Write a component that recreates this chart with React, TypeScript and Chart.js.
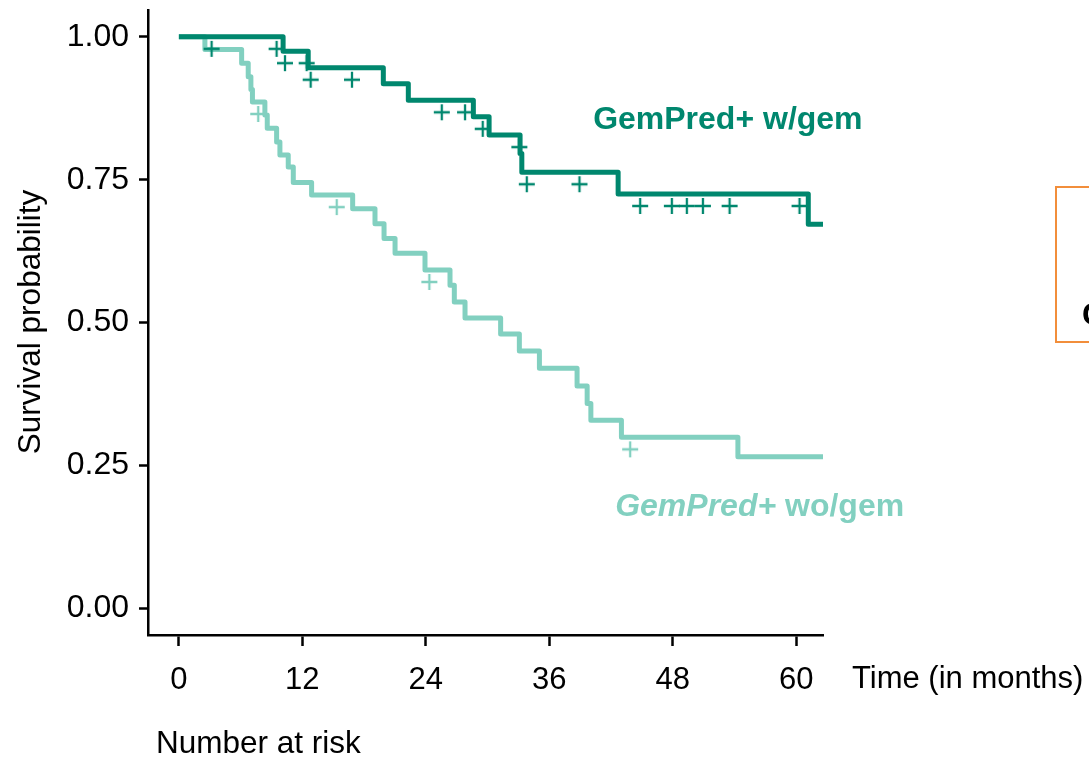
import React, { useEffect, useRef } from "react";
import { Chart, registerables } from "chart.js";
Chart.register(...registerables);

// ---------- data ----------
const X_TICKS = [0, 12, 24, 36, 48, 60];
const X_LABELS = ["0", "12", "24", "36", "48", "60"];
const Y_TICKS = [0, 0.25, 0.5, 0.75, 1.0];
const Y_LABELS = ["0.00", "0.25", "0.50", "0.75", "1.00"];

// GemPred+ w/gem : step times (months) and survival after each step
const wTimes = [0, 10.13, 12.57, 19.87, 22.3, 28.62, 30.15, 33.16, 33.33, 42.69, 61.17];
const wSurv = [1.0, 0.975, 0.946, 0.918, 0.889, 0.86, 0.828, 0.796, 0.763, 0.725, 0.672];
const wCensor = [3.18, 9.5, 10.31, 12.42, 12.81, 16.82, 25.55, 27.81, 29.53, 33.09, 33.81, 38.93, 44.83, 47.91, 49.37, 50.93, 53.52, 60.32];

// GemPred+ wo/gem
const woTimes = [0, 2.53, 6.1, 6.74, 7.0, 7.15, 8.36, 8.59, 9.5, 9.82, 10.63, 11.12, 12.9, 16.89, 19.06, 19.94, 21.01, 23.92, 26.35, 26.77, 27.81, 31.27, 33.09, 35.04, 38.7, 39.68, 40.04, 43.01, 54.33];
const woSurv = [1.0, 0.978, 0.954, 0.93, 0.908, 0.886, 0.863, 0.84, 0.816, 0.793, 0.772, 0.745, 0.723, 0.699, 0.673, 0.647, 0.621, 0.592, 0.565, 0.536, 0.508, 0.48, 0.45, 0.42, 0.389, 0.358, 0.329, 0.299, 0.265];
const woCensor = [7.71, 15.34, 24.34, 43.86];

const X_MIN = -3;
const X_MAX = 62.6;
const Y_MIN = -0.047;
const Y_MAX = 1.047;

const LABEL_W = { text: "GemPred+ w/gem", t: 40.26, v: 0.838 };
const LABEL_WO = { italic: "GemPred+", rest: " wo/gem", t: 42.4, v: 0.161 };

const DARK = "#00876e";
const LIGHT = "#82d0c0";
const FONT = "'Liberation Sans', Arial, Helvetica, sans-serif";

function survAt(times: number[], surv: number[], t: number) {
  let v = surv[0];
  for (let i = 0; i < times.length; i++) {
    if (times[i] <= t) v = surv[i];
  }
  return v;
}

function stepData(times: number[], surv: number[]) {
  const pts = times.map((t, i) => ({ x: t, y: surv[i] }));
  pts.push({ x: X_MAX, y: surv[surv.length - 1] });
  return pts;
}

function makeCross(color: string, offset: number, size: number, lw: number) {
  const c = document.createElement("canvas");
  c.width = size + 4;
  c.height = 2 * (offset + size / 2 + 3);
  const g = c.getContext("2d")!;
  g.strokeStyle = color;
  g.lineWidth = lw;
  const cx = c.width / 2;
  const cy = c.height / 2 + offset;
  g.beginPath();
  g.moveTo(cx - size / 2, cy);
  g.lineTo(cx + size / 2, cy);
  g.moveTo(cx, cy - size / 2);
  g.lineTo(cx, cy + size / 2);
  g.stroke();
  return c;
}

const textPlugin = {
  id: "kmText",
  afterDraw(chart: any) {
    const ctx = chart.ctx as CanvasRenderingContext2D;
    const xs = chart.scales.x;
    const ys = chart.scales.y;
    ctx.save();
    ctx.fillStyle = "#000";
    ctx.textBaseline = "alphabetic";

    // y axis title
    ctx.save();
    ctx.translate(40, 322);
    ctx.rotate(-Math.PI / 2);
    ctx.textAlign = "center";
    ctx.font = `31.5px ${FONT}`;
    ctx.fillText("Survival probability", 0, 0);
    ctx.restore();

    // x axis title to the right
    ctx.textAlign = "left";
    ctx.font = `31px ${FONT}`;
    ctx.fillText("Time (in months)", 852, 688);

    // number at risk header
    ctx.font = `31.5px ${FONT}`;
    ctx.fillText("Number at risk", 156, 753);

    // curve labels
    ctx.font = `bold 32px ${FONT}`;
    ctx.fillStyle = DARK;
    ctx.fillText(LABEL_W.text, xs.getPixelForValue(LABEL_W.t), ys.getPixelForValue(LABEL_W.v));

    ctx.fillStyle = LIGHT;
    const lx = xs.getPixelForValue(LABEL_WO.t);
    const ly = ys.getPixelForValue(LABEL_WO.v);
    ctx.font = `italic bold 32px ${FONT}`;
    ctx.fillText(LABEL_WO.italic, lx, ly);
    const w = ctx.measureText(LABEL_WO.italic).width;
    ctx.font = `bold 32px ${FONT}`;
    ctx.fillText(LABEL_WO.rest, lx + w, ly);

    // orange box on the right (cut off)
    ctx.strokeStyle = "#f28e3b";
    ctx.lineWidth = 2;
    ctx.strokeRect(1056, 187, 80, 155);
    ctx.fillStyle = "#000";
    ctx.font = `bold 32px ${FONT}`;
    ctx.fillText("C", 1082, 325);
    ctx.restore();
  },
};

export default function App() {
  const ref = useRef<HTMLCanvasElement | null>(null);
  useEffect(() => {
    if (!ref.current) return;
    const crossDark = makeCross(DARK, 12, 16, 2.3);
    const crossLight = makeCross(LIGHT, 12, 16, 2.3);
    const tickFont = { family: FONT, size: 31 };
    const chart = new Chart(ref.current, {
      type: "line",
      data: {
        datasets: [
          {
            label: "w censor",
            data: wCensor.map((t) => ({ x: t, y: survAt(wTimes, wSurv, t) })),
            showLine: false,
            pointStyle: crossDark as any,
            pointRadius: 5,
            borderColor: DARK,
            backgroundColor: DARK,
          },
          {
            label: "wo censor",
            data: woCensor.map((t) => ({ x: t, y: survAt(woTimes, woSurv, t) })),
            showLine: false,
            pointStyle: crossLight as any,
            pointRadius: 5,
            borderColor: LIGHT,
            backgroundColor: LIGHT,
          },
          {
            label: "GemPred+ w/gem",
            data: stepData(wTimes, wSurv),
            stepped: "before",
            borderColor: DARK,
            borderWidth: 5,
            borderJoinStyle: "round",
            pointRadius: 0,
            fill: false,
          },
          {
            label: "GemPred+ wo/gem",
            data: stepData(woTimes, woSurv),
            stepped: "before",
            borderColor: LIGHT,
            borderWidth: 5,
            borderJoinStyle: "round",
            pointRadius: 0,
            fill: false,
          },
        ],
      },
      options: {
        animation: false,
        responsive: false,
        maintainAspectRatio: false,
        layout: { padding: { left: 0, top: 10, right: 266, bottom: 0 } },
        plugins: { legend: { display: false }, tooltip: { enabled: false } },
        scales: {
          x: {
            type: "linear",
            min: X_MIN,
            max: X_MAX,
            afterBuildTicks: (s: any) => {
              s.ticks = X_TICKS.map((v) => ({ value: v }));
            },
            afterFit: (s: any) => {
              s.height = 122;
              s.paddingLeft = 0;
              s.paddingRight = 0;
            },
            ticks: {
              font: tickFont,
              color: "#000",
              padding: 16,
              maxRotation: 0,
              autoSkip: false,
              callback: (_v: any, i: number) => X_LABELS[i],
            },
            grid: {
              display: true,
              drawOnChartArea: false,
              drawTicks: true,
              tickLength: 11,
              tickWidth: 2.5,
              tickColor: "#000",
            },
            border: { display: true, color: "#000", width: 2.5 },
          },
          y: {
            type: "linear",
            min: Y_MIN,
            max: Y_MAX,
            afterBuildTicks: (s: any) => {
              s.ticks = Y_TICKS.map((v) => ({ value: v }));
            },
            afterFit: (s: any) => {
              s.width = 148;
              s.paddingTop = 0;
              s.paddingBottom = 0;
            },
            ticks: {
              font: { family: FONT, size: 32 },
              color: "#000",
              padding: 10,
              autoSkip: false,
              callback: (_v: any, i: number) => Y_LABELS[i],
            },
            grid: {
              display: true,
              drawOnChartArea: false,
              drawTicks: true,
              tickLength: 9,
              tickWidth: 2.5,
              tickColor: "#000",
            },
            border: { display: true, color: "#000", width: 2.5 },
          },
        },
      },
      plugins: [textPlugin],
    } as any);
    return () => chart.destroy();
  }, []);
  return (
    <div style={{ position: "fixed", left: 0, top: 0, width: 1089, height: 757, background: "#fff" }}>
      <canvas ref={ref} width={1089} height={757} style={{ display: "block", width: 1089, height: 757 }} />
    </div>
  );
}
